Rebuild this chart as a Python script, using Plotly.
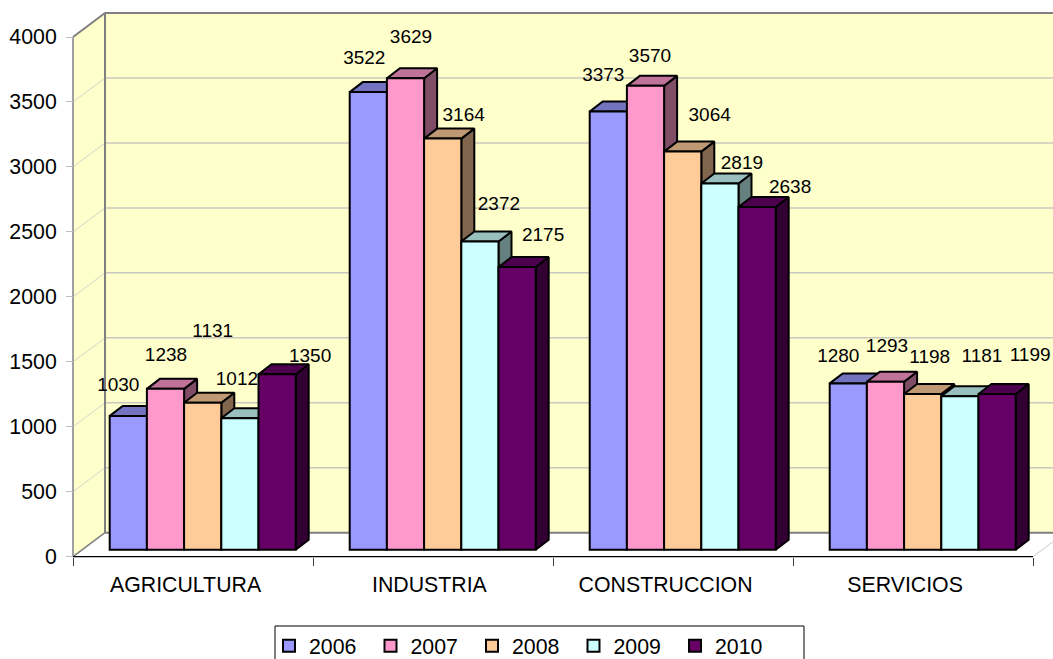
import plotly.graph_objects as go

categories = ["AGRICULTURA", "INDUSTRIA", "CONSTRUCCION", "SERVICIOS"]
years = ["2006", "2007", "2008", "2009", "2010"]
v2006 = [1030, 3522, 3373, 1280]
v2007 = [1238, 3629, 3570, 1293]
v2008 = [1131, 3164, 3064, 1198]
v2009 = [1012, 2372, 2819, 1181]
v2010 = [1350, 2175, 2638, 1199]
series = [v2006, v2007, v2008, v2009, v2010]
y_ticks = [0, 500, 1000, 1500, 2000, 2500, 3000, 3500, 4000]

front_colors = ["#9999FF", "#FF99CC", "#FFCC99", "#CCFFFF", "#660066"]
top_colors = ["#7373BF", "#BF7399", "#BF9973", "#99BFBF", "#4D004D"]
side_colors = ["#4D4D80", "#804D66", "#80664D", "#668080", "#330033"]

# label offsets from each bar's top centre, in pixels (right, up): per year, per category
label_dx = [[-10, -4, -5, -10], [0.5, 5.5, 4.5, 1.5], [10, 21, 27, 7], [-3, 19, 22, 22], [33, 26, 33, 33]]
label_dy = [[29.5, 32.5, 35, 26.5], [32.5, 39.5, 28.5, 34.5], [70.5, 22.5, 35.5, 35.5], [37.5, 36.5, 19, 39.5], [17.5, 30.5, 18.5, 37.5]]
cat_label_pos = [0.469, 1.485, 2.469, 3.467]

W, H = 1053, 659
X0, Y0 = 73, 556.7          # pixel position of the origin
PX_X = 240.0                # pixels per category
PX_Y = 519.7 / 4000         # pixels per value unit
ux = lambda p: p / PX_X
uy = lambda p: p / PX_Y
x_range = [ux(-X0), ux(W - X0)]
y_range = [uy(Y0 - H), uy(Y0)]

WALL_DX, WALL_DY = ux(32), uy(24)
BASE = uy(7)
START = ux(36.7)
BAR_W = ux(37.2)
DEPTH_X, DEPTH_Y = ux(13), uy(10)

fig = go.Figure()


def poly(xs, ys, fill, line=None, lw=0):
    fig.add_trace(go.Scatter(x=xs, y=ys, mode="lines", fill="toself", fillcolor=fill,
                             line=dict(color=line or fill, width=lw), showlegend=False,
                             hoverinfo="skip"))


def line(xs, ys, color, lw):
    fig.add_trace(go.Scatter(x=xs, y=ys, mode="lines", line=dict(color=color, width=lw),
                             showlegend=False, hoverinfo="skip"))


top = y_ticks[-1]
poly([0, WALL_DX, 4 + WALL_DX, 4, 0], [0, WALL_DY, WALL_DY, 0, 0], "#FFFFFF")
poly([0, WALL_DX, WALL_DX, 0, 0], [0, WALL_DY, top + WALL_DY, top, 0], "#FFFFCC")
poly([WALL_DX, 4 + WALL_DX, 4 + WALL_DX, WALL_DX, WALL_DX],
     [WALL_DY, WALL_DY, top + WALL_DY, top + WALL_DY, WALL_DY], "#FFFFCC")
for v in y_ticks[1:-1]:
    line([0, WALL_DX], [v, v + WALL_DY], "#D4D4C8", 1)
    line([WALL_DX, 4 + WALL_DX], [v + WALL_DY, v + WALL_DY], "#C8C8C0", 1.5)
line([4, 4 + WALL_DX], [0, WALL_DY], "#C8C8C8", 1)
line([0, WALL_DX], [0, WALL_DY], "#808080", 1.5)
line([WALL_DX, 4 + WALL_DX], [WALL_DY, WALL_DY], "#808080", 2)
line([WALL_DX, WALL_DX], [WALL_DY, top + WALL_DY], "#808080", 2)
line([0, WALL_DX, 4 + WALL_DX], [top, top + WALL_DY, top + WALL_DY], "#808080", 2)
line([0, 0], [0, top], "#A0A0A0", 2)
line([0, 4], [0, 0], "#000000", 1.2)


def left_edge(i, j):
    return i + START + j * BAR_W


# sides and tops, year by year, underneath all the front faces
for j, vals in enumerate(series):
    sx, sy, tx, ty = [], [], [], []
    for i, v in enumerate(vals):
        l = left_edge(i, j)
        r = l + BAR_W
        h = v + BASE
        sx += [r, r + DEPTH_X, r + DEPTH_X, r, r, None]
        sy += [BASE, BASE + DEPTH_Y, h + DEPTH_Y, h, BASE, None]
        tx += [l, l + DEPTH_X, r + DEPTH_X, r, l, None]
        ty += [h, h + DEPTH_Y, h + DEPTH_Y, h, h, None]
    poly(sx, sy, side_colors[j], "#000000", 2)
    poly(tx, ty, top_colors[j], "#000000", 2)

# front faces
for j, vals in enumerate(series):
    fig.add_trace(go.Bar(
        x=[left_edge(i, j) + BAR_W / 2 for i in range(4)], y=vals, base=[BASE] * 4, width=BAR_W,
        name=years[j], marker=dict(color=front_colors[j], line=dict(color="#000000", width=2)),
        xaxis="x2", yaxis="y2", hoverinfo="skip"))

# data labels
lx, ly, lt = [], [], []
for j, vals in enumerate(series):
    for i, v in enumerate(vals):
        lx.append(left_edge(i, j) + BAR_W / 2 + ux(label_dx[j][i]))
        ly.append(v + BASE + uy(label_dy[j][i]))
        lt.append(str(v))
fig.add_trace(go.Scatter(x=lx, y=ly, text=lt, mode="text", textposition="middle center",
                         textfont=dict(size=19, color="#000000"), showlegend=False,
                         cliponaxis=False, xaxis="x2", yaxis="y2", hoverinfo="skip"))

FONT = "Liberation Sans, Arial, sans-serif"
fig.update_layout(
    width=W, height=H, margin=dict(l=0, r=0, t=0, b=0, autoexpand=False), autosize=False,
    paper_bgcolor="#FFFFFF", plot_bgcolor="rgba(0,0,0,0)", barmode="overlay",
    font=dict(family=FONT, color="#000000"), hovermode=False,
    xaxis=dict(domain=[0, 1], range=x_range, anchor="free", position=(H - Y0) / H,
               showgrid=False, zeroline=False, showline=False,
               tickmode="array", tickvals=cat_label_pos, ticktext=categories,
               ticks="", tickfont=dict(size=21.3), ticklabelstandoff=13,
               minor=dict(tickmode="array", tickvals=[0, 1, 2, 3, 4], ticks="outside",
                          ticklen=8, tickcolor="#404040", tickwidth=1, showgrid=False)),
    yaxis=dict(domain=[0, 1], range=y_range, anchor="free", position=X0 / W,
               showgrid=False, zeroline=False, showline=False,
               tickmode="array", tickvals=y_ticks, ticks="outside", ticklen=7,
               tickcolor="#C0C0C0", tickwidth=1, tickfont=dict(size=21.3),
               ticklabelstandoff=5),
    xaxis2=dict(domain=[0, 1], range=x_range, overlaying="x", anchor="y2", visible=False),
    yaxis2=dict(domain=[0, 1], range=y_range, overlaying="y", anchor="x2", visible=False),
    legend=dict(orientation="h", x=269 / W, xanchor="left", y=1 - 625.5 / H, yanchor="top",
                bgcolor="rgba(0,0,0,0)", borderwidth=0, font=dict(size=21.3),
                entrywidth=56.5, entrywidthmode="pixels", traceorder="normal",
                tracegroupgap=0),
    shapes=[dict(type="rect", xref="paper", yref="paper", x0=275 / W, x1=804 / W,
                 y0=-30 / H, y1=1 - 626 / H, line=dict(color="#000000", width=1),
                 fillcolor="#FFFFFF", layer="below")],
)
fig.write_html("out.html", post_script="document.body.style.margin='0';document.body.style.overflow='hidden';",
               config=dict(displayModeBar=False))
